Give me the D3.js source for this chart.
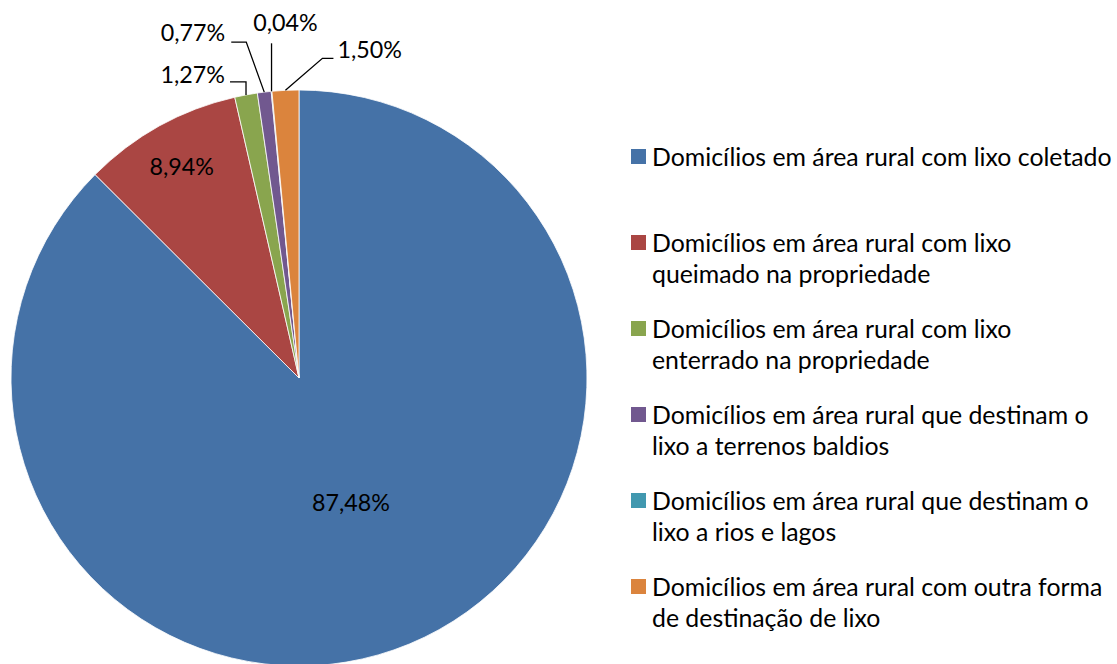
<!DOCTYPE html>
<html>
<head>
<meta charset="utf-8">
<script src="https://cdnjs.cloudflare.com/ajax/libs/d3/7.8.5/d3.min.js"></script>
<style>
  body { margin: 0; background: #fff; }
  svg { display: block; }
  text { font-family: Lato, "Open Sans", sans-serif; fill: #000; }
</style>
</head>
<body>
<div id="chart"></div>
<script>
// data
var categories = [
    "Domicílios em área rural com lixo coletado",
    "Domicílios em área rural com lixo queimado na propriedade",
    "Domicílios em área rural com lixo enterrado na propriedade",
    "Domicílios em área rural que destinam o lixo a terrenos baldios",
    "Domicílios em área rural que destinam o lixo a rios e lagos",
    "Domicílios em área rural com outra forma de destinação de lixo"
];
var values = [87.48, 8.94, 1.27, 0.77, 0.04, 1.50];
var labels = ["87,48%", "8,94%", "1,27%", "0,77%", "0,04%", "1,50%"];
var legendLines = [
    ["Domicílios em área rural com lixo coletado"],
    ["Domicílios em área rural com lixo", "queimado na propriedade"],
    ["Domicílios em área rural com lixo", "enterrado na propriedade"],
    ["Domicílios em área rural que destinam o", "lixo a terrenos baldios"],
    ["Domicílios em área rural que destinam o", "lixo a rios e lagos"],
    ["Domicílios em área rural com outra forma", "de destinação de lixo"]
];
var colors = ["#4572A7", "#AA4643", "#89A54E", "#71588F", "#4198AF", "#DB843D"];

(function () {
    "use strict";

    var width = 1117,
        height = 664,
        cx = 299,
        cy = 378,
        radius = 288;

    var svg = d3.select("#chart").append("svg")
        .attr("width", width)
        .attr("height", height);

    // fit font sizes to the widths seen in the picture (Calibri is not installed)
    function fitSize(str, targetW) {
        var t = svg.append("text").attr("font-size", 20).text(str);
        var w = t.node().getComputedTextLength();
        t.remove();
        return 20 * targetW / w;
    }
    var labelSize = fitSize("87,48%", 78),
        legendSize = fitSize(legendLines[0][0], 460);

    var color = d3.scaleOrdinal().domain(categories).range(colors);

    var pie = d3.pie().sort(null).value(function (d) { return d.value; });
    var data = categories.map(function (c, i) {
        return {name: c, value: values[i], label: labels[i]};
    });
    var arcs = pie(data);

    var arc = d3.arc().innerRadius(0).outerRadius(radius);
    var rim = d3.arc().innerRadius(radius).outerRadius(radius);

    var g = svg.append("g").attr("transform", "translate(" + cx + "," + cy + ")");

    g.selectAll("path.slice")
        .data(arcs)
        .enter().append("path")
        .attr("class", "slice")
        .attr("d", arc)
        .attr("fill", function (d) { return color(d.data.name); })
        .attr("stroke", "#fff")
        .attr("stroke-width", 0.8);

    // inside labels for the two big slices
    var inner = {0: 0.47, 1: 0.84};
    arcs.forEach(function (d, i) {
        if (inner[i] === undefined) return;
        var r = radius * inner[i];
        var a = (d.startAngle + d.endAngle) / 2;
        g.append("text")
            .attr("x", Math.sin(a) * r)
            .attr("y", -Math.cos(a) * r)
            .attr("dy", "0.35em")
            .attr("text-anchor", "middle")
            .attr("font-size", labelSize)
            .text(d.data.label);
    });

    // outside labels with leader lines (elbow + label offsets from the rim point)
    var outside = {
        2: {elbow: [0, -13], end: [-16, -13], text: [-21, -12], anchor: "end"},
        3: {elbow: [-18, -50], end: [-33, -50], text: [-39, -51], anchor: "end"},
        4: {elbow: [0, -48], end: [0, -48], text: [14, -60], anchor: "middle"},
        5: {elbow: [37, -32], end: [48, -32], text: [52, -32], anchor: "start"}
    };
    var lead = g.append("g").attr("class", "leaders");
    arcs.forEach(function (d, i) {
        var o = outside[i];
        if (!o) return;
        var p = rim.centroid(d);
        lead.append("polyline")
            .attr("points", [p, [p[0] + o.elbow[0], p[1] + o.elbow[1]],
                [p[0] + o.end[0], p[1] + o.end[1]]].map(function (q) { return q.join(","); }).join(" "))
            .attr("fill", "none")
            .attr("stroke", "#000")
            .attr("stroke-width", 1.3);
        lead.append("text")
            .attr("x", p[0] + o.text[0])
            .attr("y", p[1] + o.text[1])
            .attr("text-anchor", o.anchor)
            .attr("font-size", labelSize)
            .text(d.data.label);
    });

    // legend
    var legend = svg.append("g").attr("transform", "translate(631,0)");
    var rowY = d3.scaleLinear().domain([0, 1]).range([157, 243]);
    var lineGap = 31;
    var items = legend.selectAll("g.item")
        .data(categories)
        .enter().append("g")
        .attr("class", "item")
        .attr("transform", function (d, i) { return "translate(0," + rowY(i) + ")"; });

    items.append("rect")
        .attr("x", 0)
        .attr("y", -8)
        .attr("width", 15)
        .attr("height", 15)
        .attr("fill", function (d) { return color(d); });

    items.each(function (d, i) {
        var t = d3.select(this).append("text")
            .attr("x", 21)
            .attr("y", 0)
            .attr("font-size", legendSize);
        legendLines[i].forEach(function (line, j) {
            t.append("tspan")
                .attr("x", 21)
                .attr("y", j * lineGap)
                .attr("dy", "0.35em")
                .text(line);
        });
    });
})();
</script>
</body>
</html>
